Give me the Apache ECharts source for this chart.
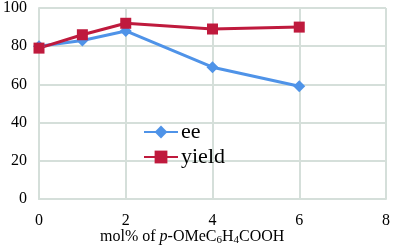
<!DOCTYPE html>
<html><head><meta charset="utf-8">
<script src="https://cdn.jsdelivr.net/npm/echarts@6/dist/echarts.min.js"></script>
<style>html,body{margin:0;padding:0;background:#fff}#c{width:393px;height:248px}</style>
</head><body><div id="c"></div>
<script>
const xValues = [0, 1, 2, 4, 6];
const eeValues = [80, 83, 88, 69, 59];
const yieldValues = [79, 86, 92, 89, 90];
const seriesNames = ['ee', 'yield'];

const chart = echarts.init(document.getElementById('c'));
const font = 'Liberation Serif';
const gridColor = '#d5dfda';
chart.setOption({
  animation: false,
  textStyle: {fontFamily: font},
  grid: {left: 38, right: 4, top: 7, bottom: 49, containLabel: false},
  title: {
    text: '{a|mol% of }{i|p}{a|-OMeC}{s|6}{a|H}{s|4}{a|COOH}',
    left: 100, top: 228, padding: 0,
    textStyle: {fontWeight: 'normal', rich: {
      a: {fontFamily: font, fontSize: 16, fontWeight: 'normal', color: '#000'},
      i: {fontFamily: font, fontSize: 16, fontWeight: 'normal', fontStyle: 'italic', color: '#000'},
      s: {fontFamily: font, fontSize: 11, fontWeight: 'normal', color: '#000', verticalAlign: 'bottom', padding: [7, 0, 0, 0]}
    }}
  },
  legend: {
    orient: 'vertical', left: 143, top: 121, padding: 0,
    itemWidth: 34, itemHeight: 16, itemGap: 3,
    textStyle: {fontFamily: font, fontSize: 22, color: '#000', padding: [0, 0, 0, -2]},
    data: seriesNames
  },
  xAxis: {
    type: 'value', min: 0, max: 8, interval: 2,
    axisLine: {show: true, lineStyle: {color: gridColor, width: 2}},
    axisTick: {show: false},
    axisLabel: {fontFamily: font, fontSize: 16, color: '#000', margin: 14},
    splitLine: {show: true, lineStyle: {color: gridColor, width: 2}}
  },
  yAxis: {
    type: 'value', min: 0, max: 100, interval: 20,
    axisLine: {show: true, lineStyle: {color: gridColor, width: 2}},
    axisTick: {show: false},
    axisLabel: {fontFamily: font, fontSize: 16, color: '#000', margin: 12},
    splitLine: {show: true, lineStyle: {color: gridColor, width: 2}}
  },
  series: [
    {name: seriesNames[0], type: 'line', data: xValues.map((x, i) => [x, eeValues[i]]),
     symbol: 'diamond', symbolSize: 12,
     lineStyle: {color: '#4f93e8', width: 3}, itemStyle: {color: '#4f93e8'}},
    {name: seriesNames[1], type: 'line', data: xValues.map((x, i) => [x, yieldValues[i]]),
     symbol: 'rect', symbolSize: 11,
     lineStyle: {color: '#bf1a3d', width: 3}, itemStyle: {color: '#bf1a3d'}}
  ]
});
</script></body></html>
